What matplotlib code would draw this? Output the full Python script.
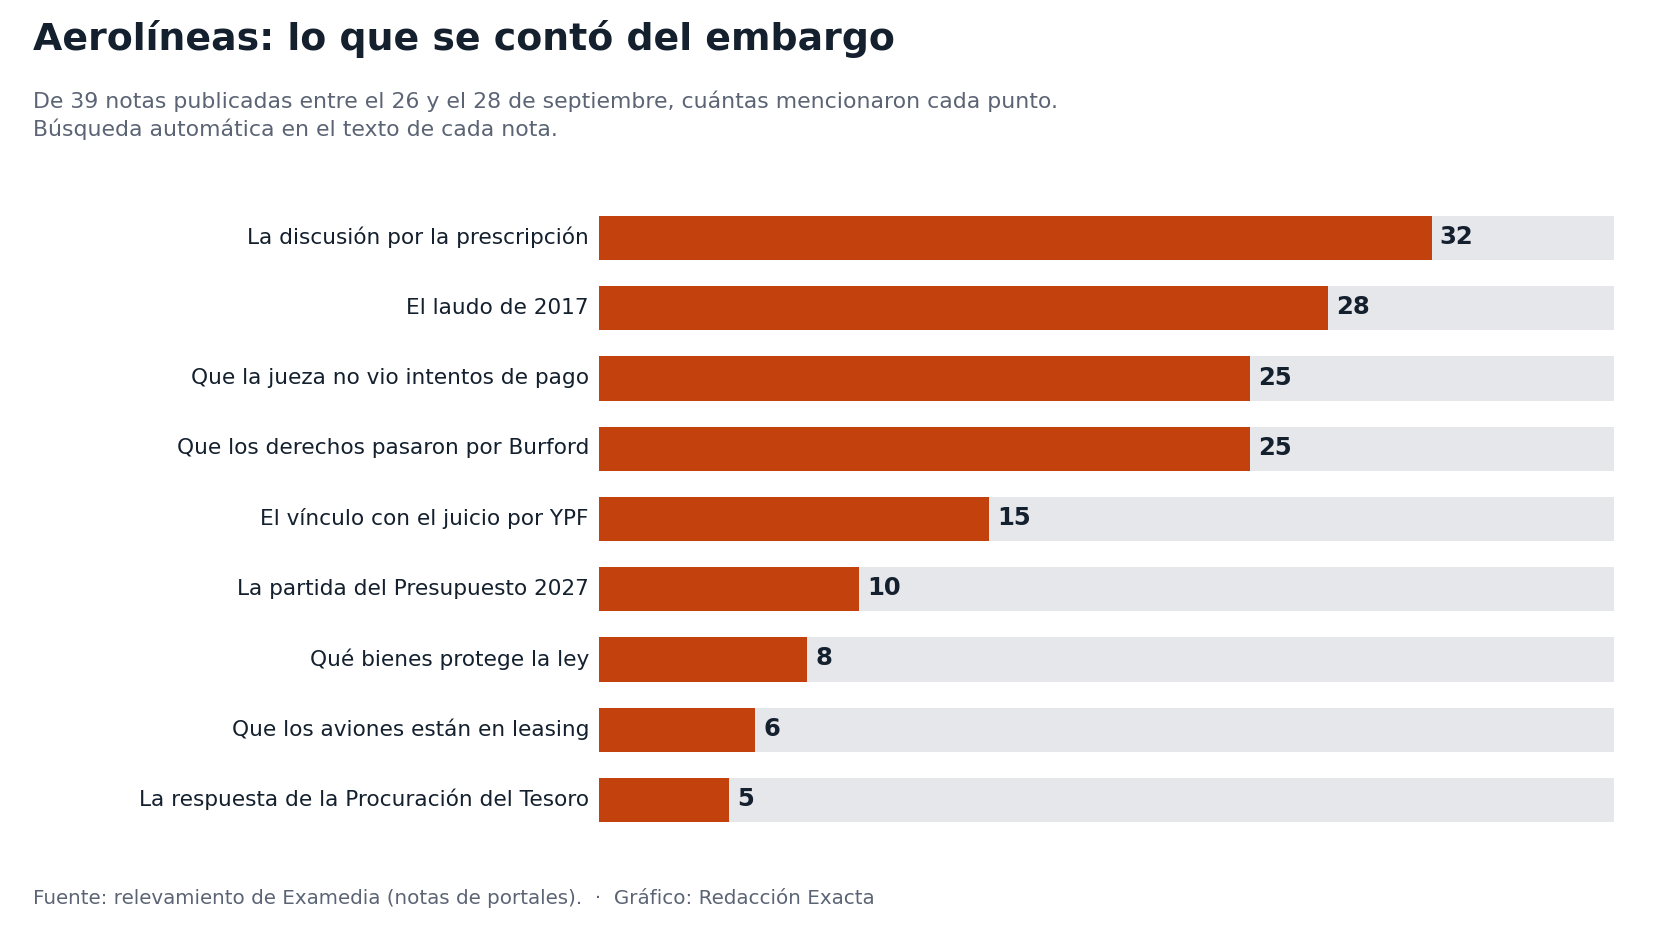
import matplotlib
matplotlib.use("Agg")
import matplotlib.pyplot as plt
from matplotlib.transforms import offset_copy

categories = [
    "La discusión por la prescripción",
    "El laudo de 2017",
    "Que la jueza no vio intentos de pago",
    "Que los derechos pasaron por Burford",
    "El vínculo con el juicio por YPF",
    "La partida del Presupuesto 2027",
    "Qué bienes protege la ley",
    "Que los aviones están en leasing",
    "La respuesta de la Procuración del Tesoro",
]
values = [32, 28, 25, 25, 15, 10, 8, 6, 5]
total_notes = 39

title = "Aerolíneas: lo que se contó del embargo"
subtitle = ("De 39 notas publicadas entre el 26 y el 28 de septiembre, cuántas mencionaron cada punto.\n"
            "Búsqueda automática en el texto de cada nota.")
footer = "Fuente: relevamiento de Examedia (notas de portales).  ·  Gráfico: Redacción Exacta"

BAR = "#c2410c"
TRACK = "#e5e7eb"
DARK = "#14202e"
GREY = "#5b6474"

plt.rcParams['font.family'] = ['DejaVu Sans']

fig = plt.figure(figsize=(16.64, 9.28), dpi=100)
ax = fig.add_axes([599/1664, 1-836/928, (1614-599)/1664, (836-204)/928])

n = len(categories)
ypos = list(range(n))[::-1]
h = 0.63
ax.barh(ypos, [total_notes]*n, height=h, color=TRACK, zorder=1)
ax.barh(ypos, values, height=h, color=BAR, zorder=2)

ax.set_xlim(0, total_notes)
ax.set_ylim(-0.5, n - 0.5)
for s in ax.spines.values():
    s.set_visible(False)
ax.set_xticks([])
ax.set_yticks([])

lab_tr = offset_copy(ax.transData, fig=fig, x=-10, y=3.5, units='dots')
for y, c in zip(ypos, categories):
    ax.text(0, y, c, transform=lab_tr, ha='right', va='center_baseline',
            fontsize=15.6, color=DARK, clip_on=False)

val_tr = offset_copy(ax.transData, fig=fig, x=8, y=2, units='dots')
for y, v in zip(ypos, values):
    ax.text(v, y, str(v), transform=val_tr, ha='left', va='center',
            fontsize=17.5, fontweight='bold', color=DARK, zorder=3)

fig.text(33/1664, 1-39/928, title, fontsize=27.3, fontweight='bold', color=DARK,
         ha='left', va='center')
fig.text(33/1664, 1-115/928, subtitle, fontsize=15.8, color=GREY, ha='left', va='center',
         linespacing=1.38)
fig.text(33/1664, 1-898/928, footer, fontsize=14.3, color=GREY, ha='left', va='center')

fig.savefig("out.png", dpi=100, facecolor="white")
